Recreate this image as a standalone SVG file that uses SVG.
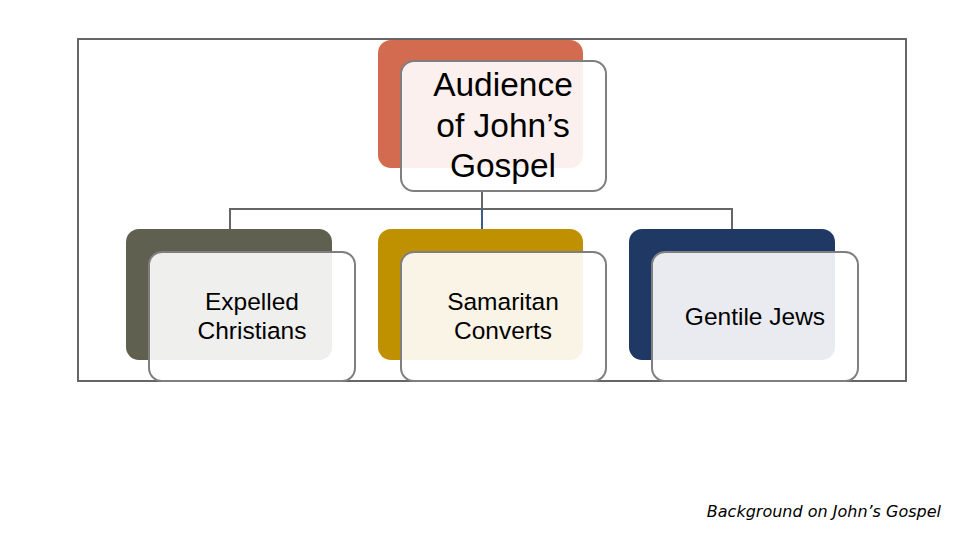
<svg xmlns="http://www.w3.org/2000/svg" width="960" height="540" viewBox="0 0 960 540">
<style>
.back{stroke:none}
.front{fill:#ffffff;fill-opacity:0.9;stroke:#7f7f7f;stroke-width:2}
.lbl{font-family:"Liberation Sans",Arial,sans-serif;fill:#000;text-anchor:middle}
.conn{fill:none;stroke:#666666;stroke-width:2}
</style>
<rect x="0" y="0" width="960" height="540" fill="#ffffff"/>
<rect id="frame" x="78" y="39" width="828" height="342" fill="none" stroke="#666666" stroke-width="2"/>
<g id="connectors">
<path class="conn" d="M482 191 V209 M230 229 V209 H732 V229"/>
<path d="M482 209 V229" fill="none" stroke="#3b5b8c" stroke-width="2"/>
</g>
<g id="node-root">
<rect class="back" x="378" y="40" width="205" height="128" rx="13" fill="#D26B50"/>
<rect class="front" x="401" y="61" width="205" height="130" rx="13"/>
<text class="lbl" font-size="33.5"><tspan x="503" y="96">Audience</tspan><tspan x="503" y="137">of John’s</tspan><tspan x="503" y="177">Gospel</tspan></text>
</g>
<g id="node-expelled">
<rect class="back" x="126" y="229" width="206" height="131" rx="13" fill="#5F6050"/>
<rect class="front" x="149" y="252" width="206" height="129" rx="13"/>
<text class="lbl" font-size="24.5"><tspan x="252" y="310">Expelled</tspan><tspan x="252" y="339">Christians</tspan></text>
</g>
<g id="node-samaritan">
<rect class="back" x="378" y="229" width="205" height="131" rx="13" fill="#BF9000"/>
<rect class="front" x="401" y="252" width="205" height="129" rx="13"/>
<text class="lbl" font-size="24.5"><tspan x="503" y="310">Samaritan</tspan><tspan x="503" y="339">Converts</tspan></text>
</g>
<g id="node-gentile">
<rect class="back" x="629" y="229" width="206" height="131" rx="13" fill="#1F3864"/>
<rect class="front" x="652" y="252" width="206" height="129" rx="13"/>
<text class="lbl" font-size="24.5" x="755" y="325">Gentile Jews</text>
</g>
<text x="941" y="517" font-family="DejaVu Sans,Verdana,sans-serif" font-style="italic" font-size="16" text-anchor="end" fill="#000">Background on John’s Gospel</text>
</svg>
